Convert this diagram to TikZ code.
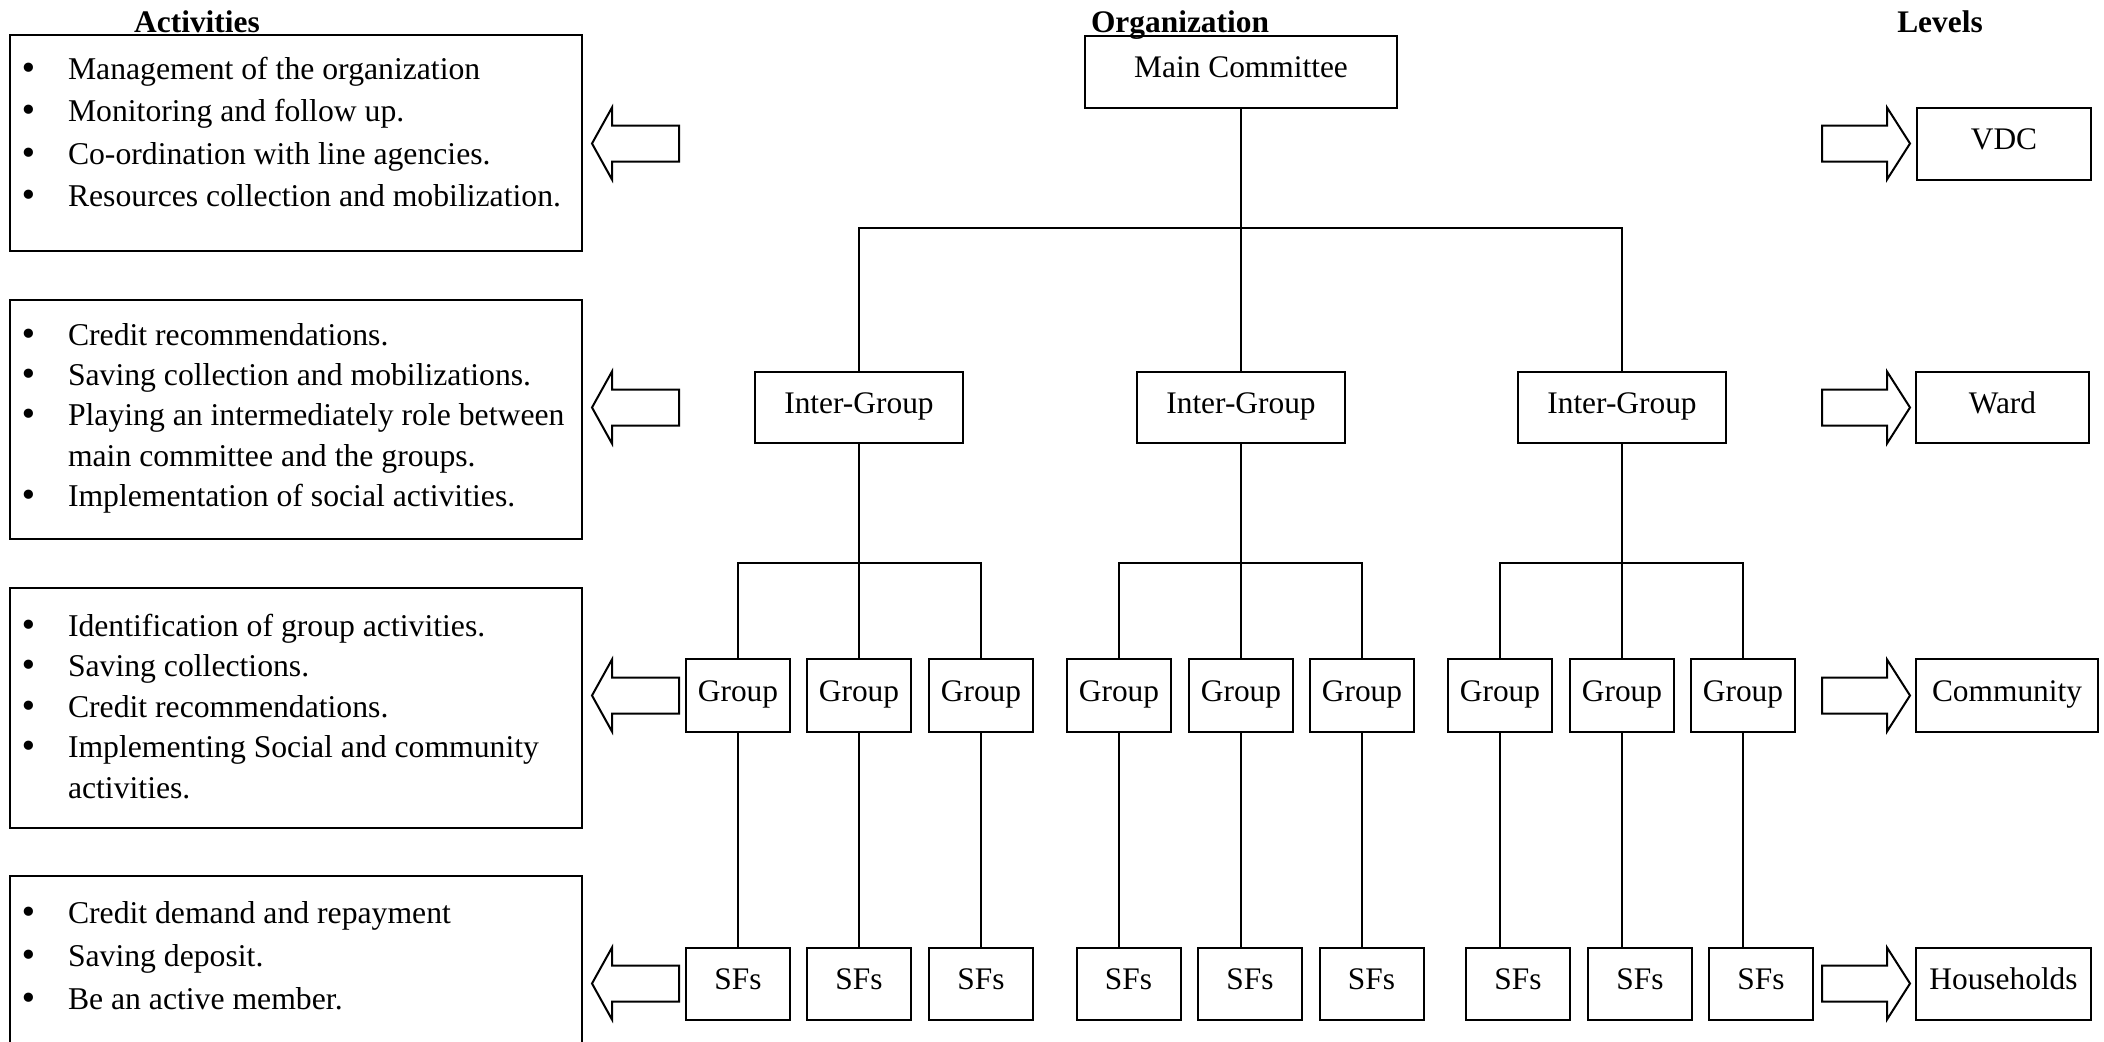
\documentclass[tikz,border=0pt]{standalone}
\usepackage{fontspec}
\setmainfont{Liberation Serif}
\newfontfamily\bulfont{DejaVu Sans}
\usetikzlibrary{calc}
\newcommand{\bitem}[1]{\par\noindent\hangindent=29pt\hangafter=1\makebox[29pt][l]{\makebox[19pt][c]{\bulfont\symbol{"2022}}}\strut#1}
\newcommand{\actlist}[1]{\vtop{\hsize=290pt\parskip=0pt\parindent=0pt #1}}
\begin{document}
\begin{tikzpicture}[x=0.5pt,y=-0.5pt,
  every node/.style={inner sep=0pt, outer sep=0pt},
  bodyfont/.style={font=\fontsize{15.7pt}{19.5pt}\selectfont},
  orgbox/.style={draw, line width=1pt, bodyfont, text height=11pt, text depth=5.5pt},
  grpsize/.style={minimum width=52pt, minimum height=36.5pt},
  sfsize/.style={minimum width=52pt, minimum height=36pt},
  igsize/.style={minimum width=104pt, minimum height=35.5pt},
  actbox/.style={draw, line width=1pt, anchor=north west, minimum width=286pt},
  acttext/.style={font=\fontsize{15.85pt}{#1}\selectfont, anchor=base west},
  headtxt/.style={font=\fontsize{15.7pt}{19pt}\selectfont\bfseries, anchor=base},
  lnk/.style={line width=1pt},
  arrowline/.style={line width=1pt, line join=miter, fill=white},
  larrow/.pic={\draw[arrowline] (0,0) -- (20,-36) -- (20,-18) -- (87,-18) -- (87,18) -- (20,18) -- (20,36) -- cycle;},
  rarrow/.pic={\draw[arrowline] (0,0) -- (-23,-36) -- (-23,-18) -- (-88,-18) -- (-88,18) -- (-23,18) -- (-23,36) -- cycle;},
]
\useasboundingbox (0,0) rectangle (2104,1041);
\fill[white] (0,0) rectangle (2104,1041);
\clip (0,0) rectangle (2104,1041);

% headings
\node[headtxt] (hact) at (197,32) {Activities};
\node[headtxt] (horg) at (1180,32) {Organization};
\node[headtxt] (hlev) at (1940,32) {Levels};

% activity boxes
\node[actbox, minimum height=108pt] (a1) at (10,35) {};
\node[actbox, minimum height=119.5pt] (a2) at (10,300) {};
\node[actbox, minimum height=120pt] (a3) at (10,588) {};
\node[actbox, minimum height=92pt] (a4) at (10,876) {};

\node[acttext=21.25pt] (t1) at (10,79) {\actlist{%
\bitem{Management of the organization}
\bitem{Monitoring and follow up.}
\bitem{Co-ordination with line agencies.}
\bitem{Resources collection and mobilization.}}};
\node[acttext=20.2pt] (t2) at (10,345) {\actlist{%
\bitem{Credit recommendations.}
\bitem{Saving collection and mobilizations.}
\bitem{Playing an intermediately role between\newline main committee and the groups.}
\bitem{Implementation of social activities.}}};
\node[acttext=20.3pt] (t3) at (10,636) {\actlist{%
\bitem{Identification of group activities.}
\bitem{Saving collections.}
\bitem{Credit recommendations.}
\bitem{Implementing Social and community\newline activities.}}};
\node[acttext=21.4pt] (t4) at (10,923.5) {\actlist{%
\bitem{Credit demand and repayment}
\bitem{Saving deposit.}
\bitem{Be an active member.}}};

% organization
\node[orgbox, minimum width=156pt, minimum height=36pt] (mc) at (1241,72) {Main Committee};
\node[orgbox, igsize] (ig1) at (859,407.5) {Inter-Group};
\node[orgbox, igsize] (ig2) at (1241,407.5) {Inter-Group};
\node[orgbox, igsize] (ig3) at (1622,407.5) {Inter-Group};

\node[orgbox, grpsize] (g11) at (738,695.5) {Group};
\node[orgbox, grpsize] (g12) at (859,695.5) {Group};
\node[orgbox, grpsize] (g13) at (981,695.5) {Group};
\node[orgbox, grpsize] (g21) at (1119,695.5) {Group};
\node[orgbox, grpsize] (g22) at (1241,695.5) {Group};
\node[orgbox, grpsize] (g23) at (1362,695.5) {Group};
\node[orgbox, grpsize] (g31) at (1500,695.5) {Group};
\node[orgbox, grpsize] (g32) at (1622,695.5) {Group};
\node[orgbox, grpsize] (g33) at (1743,695.5) {Group};

\node[orgbox, sfsize] (s11) at (738,984) {SFs};
\node[orgbox, sfsize] (s12) at (859,984) {SFs};
\node[orgbox, sfsize] (s13) at (981,984) {SFs};
\node[orgbox, sfsize] (s21) at (1128.5,984) {SFs};
\node[orgbox, sfsize] (s22) at (1250,984) {SFs};
\node[orgbox, sfsize] (s23) at (1371.5,984) {SFs};
\node[orgbox, sfsize] (s31) at (1518,984) {SFs};
\node[orgbox, sfsize] (s32) at (1640,984) {SFs};
\node[orgbox, sfsize] (s33) at (1761,984) {SFs};

% levels
\node[orgbox, minimum width=87pt, minimum height=36pt] (vdc) at (2004,144) {VDC};
\node[orgbox, minimum width=86.5pt, minimum height=35.5pt] (ward) at (2002.5,407.5) {Ward};
\node[orgbox, minimum width=91pt, minimum height=36.5pt] (comm) at (2007,695.5) {Community};
\node[orgbox, minimum width=87.5pt, minimum height=36pt] (hh) at (2003.5,984) {Households};

% connectors
\coordinate (b0) at (1241,228);
\coordinate (b1) at (859,563);
\coordinate (b2) at (1241,563);
\coordinate (b3) at (1622,563);
\draw[lnk] (mc.south) -- (ig2.north);
\draw[lnk] (ig1.north) |- (b0) -| (ig3.north);
\draw[lnk] (ig1.south) -- (g12.north);
\draw[lnk] (g11.north) |- (b1) -| (g13.north);
\draw[lnk] (ig2.south) -- (g22.north);
\draw[lnk] (g21.north) |- (b2) -| (g23.north);
\draw[lnk] (ig3.south) -- (g32.north);
\draw[lnk] (g31.north) |- (b3) -| (g33.north);
\foreach \g/\s in {g11/s11,g12/s12,g13/s13,g21/s21,g22/s22,g23/s23,g31/s31,g32/s32,g33/s33}
  \draw[lnk] (\g.south) -- (\g.south |- \s.north);

% block arrows
\pic at (592,143.5) {larrow};
\pic at (592,407.5) {larrow};
\pic at (592,695.5) {larrow};
\pic at (592,983.5) {larrow};
\pic at (1910,143.5) {rarrow};
\pic at (1910,407.5) {rarrow};
\pic at (1910,695.5) {rarrow};
\pic at (1910,983.5) {rarrow};
\end{tikzpicture}
\end{document}
